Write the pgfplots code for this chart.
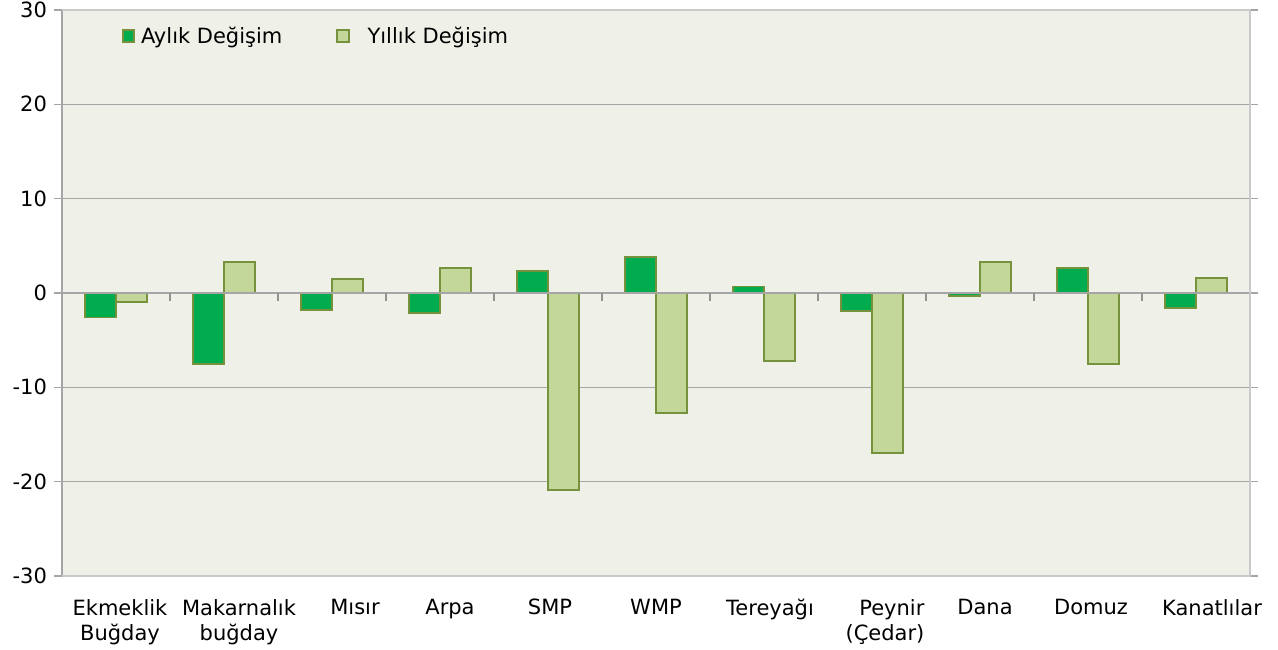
\documentclass[border=0pt]{standalone}
\usepackage{pgfplots}
\pgfplotsset{compat=1.18}
\usepackage{calc}
\usepackage{fontspec}
\setmainfont{DejaVu Sans}
\definecolor{aylik}{RGB}{0,172,78}
\definecolor{yillik}{RGB}{196,215,155}
\definecolor{edge}{RGB}{118,146,60}
\definecolor{bg}{RGB}{239,241,233}
\definecolor{gridc}{RGB}{165,165,165}
\begin{document}
\begin{tikzpicture}
\begin{axis}[
  scale only axis,
  width=594pt, height=283pt,
  xmin=-0.5, xmax=10.5,
  ymin=-30, ymax=30,
  ytick={-30,-20,...,30},
  xtick={0,...,10},
  xticklabels={
    {\hspace*{4pt}Ekmeklik\\\hspace*{4pt}Buğday},
    {\hspace*{15pt}Makarnalık\\\hspace*{15pt}buğday},
    {\hspace*{23pt}Mısır},
    {\hspace*{10pt}Arpa},
    {\hspace*{2pt}SMP},
    {WMP},
    {\hspace*{6pt}Tereyağı},
    {\hspace*{13pt}\makebox[\widthof{(Çedar)}][r]{Peynir}\\\hspace*{13pt}(Çedar)},
    {\hspace*{5pt}Dana},
    {\hspace*{3pt}Domuz},
    {\hspace*{16pt}Kanatlılar}},
  xticklabel style={align=center, font=\fontsize{10.5}{12.5}\selectfont, yshift=-4pt},
  yticklabel style={font=\fontsize{10.5}{12.5}\selectfont},
  /pgf/number format/assume math mode=true,
  axis background/.style={fill=bg},
  axis line style={draw=none},
  x tick style={draw=none},
  y tick style={draw=gridc, line width=0.8pt},
  tick align=outside,
  major tick length=4pt,
  ymajorgrids,
  grid style={gridc, line width=0.6pt},
  ybar,
  bar width=0.29,
  legend style={at={(0.045,0.985)}, anchor=north west, draw=none, fill=none,
    font=\fontsize{10.5}{12.5}\selectfont, column sep=1pt,
    /tikz/every even column/.append style={column sep=25pt}},
  legend columns=2,
  legend image code/.code={\draw[#1, draw=edge] (0cm,-0.1cm) rectangle (0.2cm,0.12cm);},
  clip=false,
]
\addplot[fill=aylik, draw=edge, line width=0.9pt, bar shift=-0.145] coordinates {
 (0,-2.6) (1,-7.5) (2,-1.8) (3,-2.1) (4,2.3) (5,3.8) (6,0.7) (7,-1.9) (8,-0.3) (9,2.65) (10,-1.6)};
\addplot[fill=yillik, draw=edge, line width=0.9pt, bar shift=0.145] coordinates {
 (0,-0.95) (1,3.3) (2,1.5) (3,2.65) (4,-20.9) (5,-12.7) (6,-7.2) (7,-17.0) (8,3.3) (9,-7.5) (10,1.6)};
\legend{Aylık Değişim, \hspace{6pt}Yıllık Değişim}
\draw[gridc, line width=1pt] (axis cs:-0.5,0) -- (axis cs:10.5,0);
\draw[gridc!90!black, line width=1pt] (axis cs:0.5,0) -- ([yshift=-4pt]axis cs:0.5,0);
\draw[gridc!90!black, line width=1pt] (axis cs:1.5,0) -- ([yshift=-4pt]axis cs:1.5,0);
\draw[gridc!90!black, line width=1pt] (axis cs:2.5,0) -- ([yshift=-4pt]axis cs:2.5,0);
\draw[gridc!90!black, line width=1pt] (axis cs:3.5,0) -- ([yshift=-4pt]axis cs:3.5,0);
\draw[gridc!90!black, line width=1pt] (axis cs:4.5,0) -- ([yshift=-4pt]axis cs:4.5,0);
\draw[gridc!90!black, line width=1pt] (axis cs:5.5,0) -- ([yshift=-4pt]axis cs:5.5,0);
\draw[gridc!90!black, line width=1pt] (axis cs:6.5,0) -- ([yshift=-4pt]axis cs:6.5,0);
\draw[gridc!90!black, line width=1pt] (axis cs:7.5,0) -- ([yshift=-4pt]axis cs:7.5,0);
\draw[gridc!90!black, line width=1pt] (axis cs:8.5,0) -- ([yshift=-4pt]axis cs:8.5,0);
\draw[gridc!90!black, line width=1pt] (axis cs:9.5,0) -- ([yshift=-4pt]axis cs:9.5,0);
\draw[gridc, line width=1pt] (axis cs:-0.5,-30) -- (axis cs:-0.5,30);
\draw[gridc!60, line width=0.6pt] (axis cs:-0.5,30) -- (axis cs:10.5,30) -- (axis cs:10.5,-30) -- (axis cs:-0.5,-30);
\end{axis}
\pgfresetboundingbox
\path (-31pt,-36.5pt) rectangle (608pt,288pt);
\end{tikzpicture}
\end{document}
